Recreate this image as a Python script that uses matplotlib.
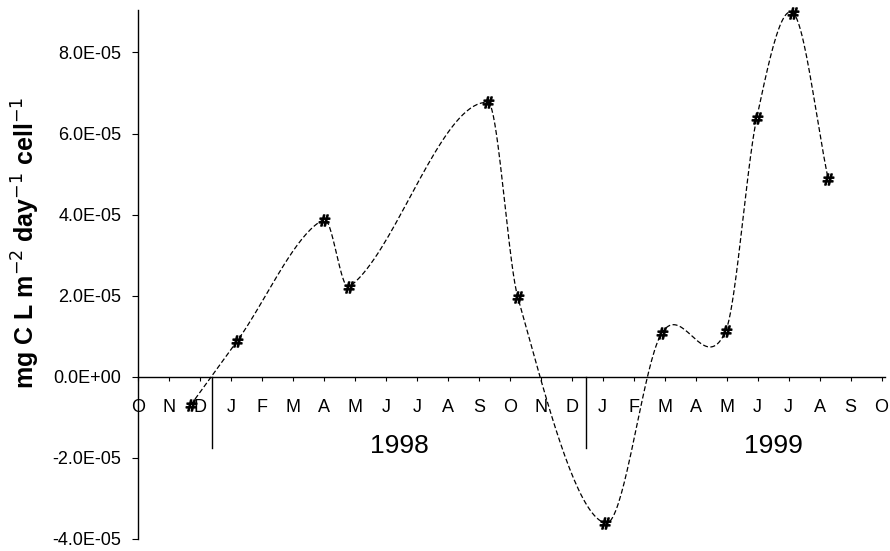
import numpy as np
import matplotlib
matplotlib.use("Agg")
import matplotlib.pyplot as plt
from matplotlib.ticker import FuncFormatter

# sampling dates as month index (0 = Oct 1997) and rates
months_idx = [1.70, 3.20, 6.00, 6.82, 11.30, 12.26, 15.09, 16.90, 18.97, 19.97, 21.15, 22.28]
rate = [-7.0e-6, 8.8e-6, 3.88e-5, 2.22e-5, 6.77e-5, 1.96e-5,
        -3.61e-5, 1.07e-5, 1.13e-5, 6.38e-5, 8.97e-5, 4.87e-5]

month_labels = ['O', 'N', 'D', 'J', 'F', 'M', 'A', 'M', 'J', 'J', 'A', 'S',
                'O', 'N', 'D', 'J', 'F', 'M', 'A', 'M', 'J', 'J', 'A', 'S', 'O']
year_labels = ['1998', '1999']
year_pos = [8.45, 20.5]
year_breaks = [2.4, 14.45]
y_ticks = [-4e-5, -2e-5, 0.0, 2e-5, 4e-5, 6e-5, 8e-5]


def smooth_curve(x, y, n=40):
    """Cubic Hermite curve through the points, Catmull-Rom style tangents."""
    x = np.asarray(x, float)
    y = np.asarray(y, float)
    m = np.empty_like(y)
    m[1:-1] = (y[2:] - y[:-2]) / (x[2:] - x[:-2])
    m[0] = (y[1] - y[0]) / (x[1] - x[0])
    m[-1] = (y[-1] - y[-2]) / (x[-1] - x[-2])
    xs, ys = [], []
    for i in range(len(x) - 1):
        h = x[i + 1] - x[i]
        t = np.linspace(0, 1, n)
        h00 = 2 * t**3 - 3 * t**2 + 1
        h10 = t**3 - 2 * t**2 + t
        h01 = -2 * t**3 + 3 * t**2
        h11 = t**3 - t**2
        xs.append(x[i] + t * h)
        ys.append(h00 * y[i] + h10 * h * m[i] + h01 * y[i + 1] + h11 * h * m[i + 1])
    return np.concatenate(xs), np.concatenate(ys)


plt.rcParams['font.family'] = ['Liberation Sans', 'DejaVu Sans']

fig = plt.figure(figsize=(8.9, 5.51), dpi=100)
ax = fig.add_axes([0.155, 0.0218, 0.839, 0.9602])

# smooth dashed curve + markers
sx, sy = smooth_curve(months_idx, rate)
ax.plot(sx, sy, color='black', lw=0.9, ls=(0, (4, 2)), clip_on=False)
ax.plot(months_idx, rate, ls='none', marker=r'$\#$', ms=8, color='black',
        clip_on=False)

# axes: y axis on the left, x axis through zero
ax.set_xlim(0, 24.1)
ax.set_ylim(-4e-5, 9.05e-5)
ax.spines['top'].set_visible(False)
ax.spines['right'].set_visible(False)
ax.spines['bottom'].set_position(('data', 0))
ax.spines['left'].set_linewidth(1.0)
ax.spines['bottom'].set_linewidth(1.0)

ax.set_yticks(y_ticks)
ax.yaxis.set_major_formatter(FuncFormatter(lambda v, p: f"{v:.1E}"))
ax.tick_params(axis='y', direction='out', length=4, pad=8, labelsize=13)

ax.set_xticks(range(len(month_labels)))
ax.set_xticklabels(month_labels)
ax.tick_params(axis='x', direction='out', length=3, pad=13, labelsize=13)

# year separators and year labels
for xb in year_breaks:
    ax.plot([xb, xb], [0, -1.75e-5], color='black', lw=1.0)
for lab, xp in zip(year_labels, year_pos):
    ax.text(xp, -1.7e-5, lab, ha='center', va='center', fontsize=19)

ax.set_ylabel('mg C L m$^{-2}$ day$^{-1}$ cell$^{-1}$',
              fontsize=18, fontweight='bold')
ax.yaxis.set_label_coords(-0.128, 0.56)

fig.savefig('out.png', dpi=100)
